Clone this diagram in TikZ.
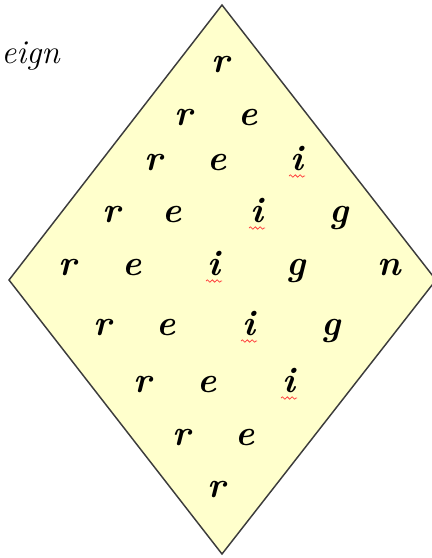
\documentclass[tikz,border=0pt]{standalone}
\usetikzlibrary{decorations.pathmorphing}
\definecolor{paleyellow}{HTML}{FFFFCC}
\definecolor{outlinegray}{HTML}{3C3C3C}
\definecolor{spellred}{HTML}{FF3B3B}
\tikzset{
	letter/.style={anchor=base, inner sep=0pt, font=\fontsize{27}{31}\selectfont\bfseries\itshape},
	spellmark/.style={draw=spellred, line width=0.55pt, decorate, decoration={snake, amplitude=0.9pt, segment length=3.6pt}}
}

\begin{document}
\begin{tikzpicture}[x=0.75pt, y=-0.75pt]
	% Page frame:
	\useasboundingbox (0, 0) rectangle (432, 558);
	% Diamond:
	\coordinate (top) at (222, 5);
	\coordinate (left) at (9, 280);
	\coordinate (bottom) at (222, 554);
	\coordinate (right) at (436, 280);
	\filldraw[fill=paleyellow, draw=outlinegray, line width=1.1pt, line join=miter] (top) -- (left) -- (bottom) -- (right) -- cycle;
	% Word at the top left:
	\node[letter, anchor=base west, font=\fontsize{25}{29}\selectfont\itshape] (word) at (1, 63) {eign};
	% Letters:
	\node[letter] (r1) at (221, 72) {r};
	\node[letter] (r2) at (184, 125) {r};
	\node[letter] (e2) at (248, 125) {e};
	\node[letter] (r3) at (154, 170) {r};
	\node[letter] (e3) at (217, 170) {e};
	\node[letter] (i3) at (297, 170) {i};
	\node[letter] (r4) at (112, 222) {r};
	\node[letter] (e4) at (172, 222) {e};
	\node[letter] (i4) at (257, 222) {i};
	\node[letter] (g4) at (339, 222) {g};
	\node[letter] (r5) at (68, 275) {r};
	\node[letter] (e5) at (132, 275) {e};
	\node[letter] (i5) at (214, 275) {i};
	\node[letter] (g5) at (296, 275) {g};
	\node[letter] (n5) at (389, 275) {n};
	\node[letter] (r6) at (103, 335) {r};
	\node[letter] (e6) at (166, 335) {e};
	\node[letter] (i6) at (249, 335) {i};
	\node[letter] (g6) at (331, 335) {g};
	\node[letter] (r7) at (143, 392) {r};
	\node[letter] (e7) at (207, 392) {e};
	\node[letter] (i7) at (289, 392) {i};
	\node[letter] (r8) at (182, 445) {r};
	\node[letter] (e8) at (245, 445) {e};
	\node[letter] (r9) at (217, 497) {r};
	% Spelling marks under the i:
	\foreach \n in {i3, i4, i5, i6, i7}
		\draw[spellmark] ([xshift=-6pt, yshift=-4.5pt]\n.base) -- ([xshift=6pt, yshift=-4.5pt]\n.base);
\end{tikzpicture}
\end{document}
